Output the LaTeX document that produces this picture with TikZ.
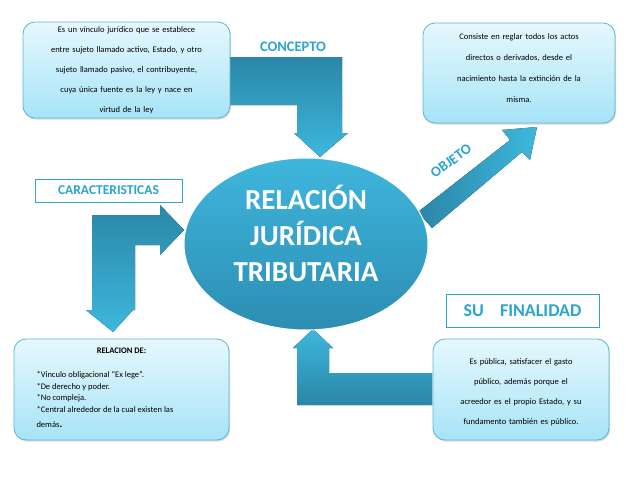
\documentclass[tikz,border=0pt]{standalone}
\usepackage{fontspec}
\setmainfont{Carlito}
\usetikzlibrary{shadows,shapes.geometric}
\definecolor{cy}{HTML}{2AA5D0}
\definecolor{arrA}{HTML}{2A86A8}
\definecolor{arrB}{HTML}{3DB8DC}
\definecolor{ellT}{HTML}{3FB6DD}
\definecolor{ellB}{HTML}{2C8DB2}
\definecolor{bxT}{HTML}{E6F8FD}
\definecolor{bxB}{HTML}{A6E4F7}
\definecolor{bxD}{HTML}{5FB4D4}
\tikzset{
  infobox/.style={draw=bxD,line width=0.8pt,rounded corners=12pt,top color=bxT,bottom color=bxB,drop shadow={shadow xshift=1pt,shadow yshift=-1.5pt,opacity=.3}},
  boxtxt/.style={font=\fontsize{8.5}{20}\selectfont,align=center,text width=#1},
  arrowshape/.style={top color=arrA,bottom color=arrB,draw=none},
  lbl/.style={font=\fontsize{14.5}{16}\selectfont\bfseries,text=cy},
  tagbox/.style={draw=cy,line width=1pt,fill=white}
}
\begin{document}
\begin{tikzpicture}[x=1pt,y=-1pt]
\useasboundingbox (0,0) rectangle (638,479);
% arrows
\fill[arrowshape] (228,57) -- (342,57) -- (342,133) -- (348,133) -- (320,157) -- (294,133) -- (297,133) -- (297,105) -- (228,105) -- cycle;
\fill[arrowshape,left color=arrA,right color=arrB] (418,212) -- (510,140) -- (502,130) -- (537,127) -- (530,160) -- (522,152) -- (432,228) -- cycle;
\fill[arrowshape] (92,215) -- (160,215) -- (160,205) -- (184,230) -- (160,255) -- (160,245) -- (135,245) -- (135,310) -- (133,310) -- (113,332) -- (86,310) -- (92,310) -- cycle;
\fill[arrowshape,top color=arrB,bottom color=arrA] (432,373) -- (329,373) -- (329,348) -- (333,348) -- (313,329) -- (293,348) -- (297,348) -- (297,405) -- (432,405) -- cycle;
% ellipse
\node[ellipse,minimum width=244pt,minimum height=172pt,inner sep=0pt,top color=ellT,bottom color=ellB,draw=white,line width=1pt] (rel) at (306,244) {};
\node[font=\fontsize{29}{36}\selectfont\bfseries,text=white,align=center] (relt) at (306,233) {RELACIÓN\\JURÍDICA\\TRIBUTARIA};
% boxes
\node[infobox,minimum width=207pt,minimum height=96pt] (b1) at (126.5,70) {};
\node[boxtxt=205pt] (b1t) at (126.5,70) {Es un vínculo jurídico que se establece\\entre sujeto llamado activo, Estado, y otro\\sujeto llamado pasivo, el contribuyente,\\cuya única fuente es la ley y nace en\\virtud de la ley};
\node[infobox,minimum width=192pt,minimum height=100pt] (b2) at (519,73) {};
\node[boxtxt=190pt,font=\fontsize{8.5}{21}\selectfont] (b2t) at (519,68) {Consiste en reglar todos los actos\\directos o derivados, desde el\\nacimiento hasta la extinción de la\\misma.};
\node[infobox,minimum width=215pt,minimum height=101pt] (b3) at (121.5,389.5) {};
\node[font=\fontsize{8.5}{10}\selectfont\bfseries] (b3h) at (121.5,351) {RELACION DE:};
\node[anchor=north west,align=left,font=\fontsize{8.5}{11.6}\selectfont] (b3t) at (33,368) {*Vinculo obligacional “Ex lege”.\\*De derecho y poder.\\*No compleja.\\*Central alrededor de la cual existen las\\[3pt]demás{\fontsize{13}{12}\selectfont.}};
\node[infobox,minimum width=176pt,minimum height=101pt] (b4) at (521,389.5) {};
\node[boxtxt=174pt] (b4t) at (521,392) {Es pública, satisfacer el gasto\\público, además porque el\\acreedor es el propio Estado, y su\\fundamento también es público.};
% labels
\node[lbl] (conc) at (293,47) {CONCEPTO};
\node[lbl,rotate=36,inner sep=1pt] (obj) at (451,161) {OBJETO};
\node[tagbox,lbl,font=\fontsize{13.5}{15}\selectfont\bfseries,minimum width=147pt,minimum height=23pt,inner sep=0pt] (car) at (108.5,190.5) {CARACTERISTICAS};
\node[tagbox,lbl,font=\fontsize{18}{20}\selectfont\bfseries,minimum width=153pt,minimum height=33pt,inner sep=0pt] (fin) at (522.5,310.5) {SU\hspace{0.9em}FINALIDAD};
\end{tikzpicture}
\end{document}
